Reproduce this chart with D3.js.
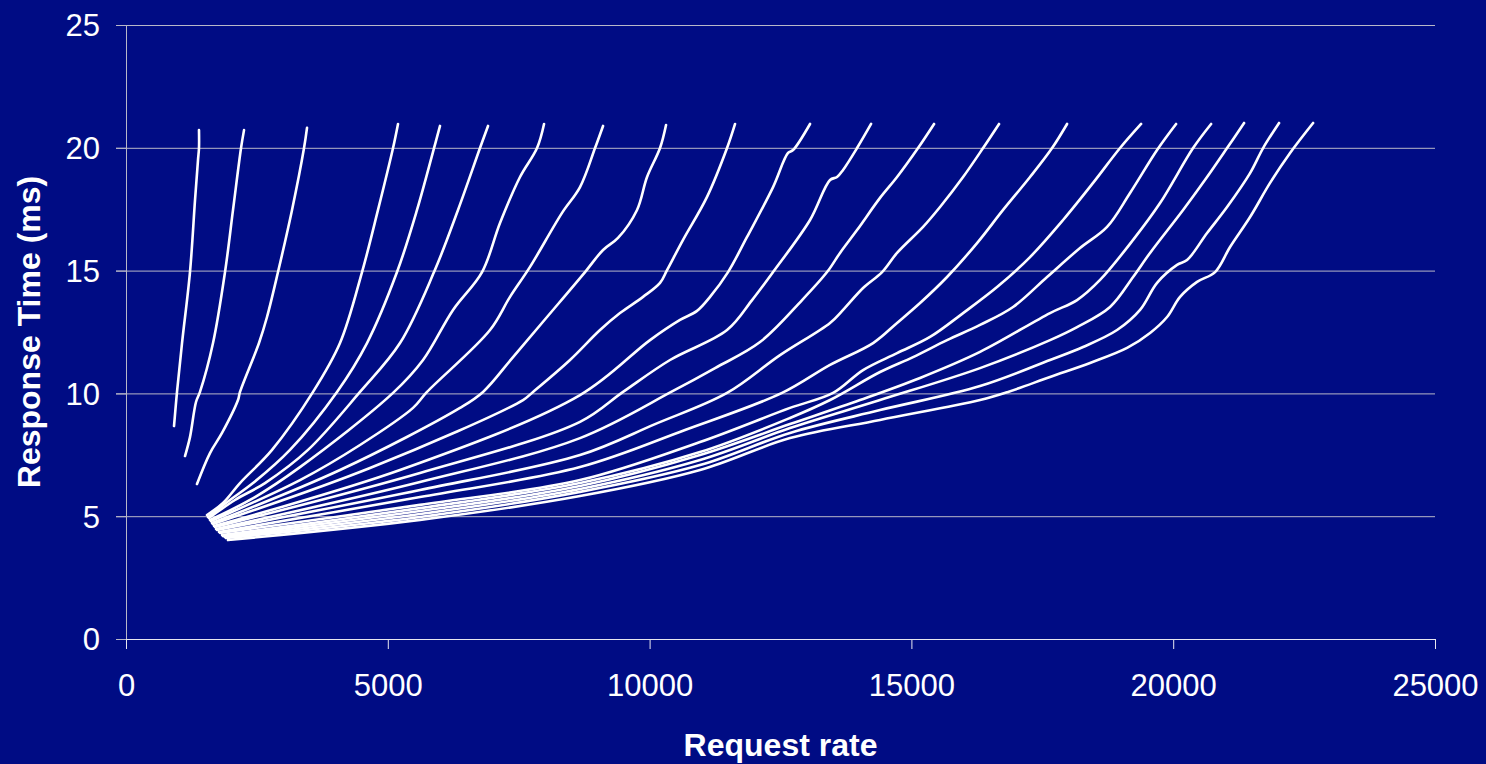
<!DOCTYPE html>
<html>
<head>
<meta charset="utf-8">
<script src="https://cdn.jsdelivr.net/npm/d3@7"></script>
<style>
  html, body { margin: 0; padding: 0; background: #000c84; }
  svg { display: block; }
</style>
</head>
<body>
<script>
// axis ticks
const xTicks = [0, 5000, 10000, 15000, 20000, 25000];
const yTicks = [0, 5, 10, 15, 20, 25];

// one array per measured curve: [request rate, response time (ms)]
const curve01 = [[917, 8.67], [974, 10.06], [1070, 12.05], [1222, 14.94], [1318, 17.87], [1375, 19.50], [1394, 19.99], [1394, 20.72]];
const curve02 = [[1127, 7.45], [1222, 8.22], [1337, 9.65], [1413, 10.06], [1662, 12.05], [1891, 14.94], [2044, 17.47], [2197, 19.99], [2254, 20.72]];
const curve03 = [[1356, 6.31], [1604, 7.57], [1834, 8.39], [2139, 9.73], [2177, 10.06], [2540, 12.05], [2693, 13.11], [2903, 14.94], [3171, 17.47], [3400, 19.99], [3457, 20.81]];
const curve04 = [[1547, 5.05], [1853, 5.54], [2177, 6.35], [2789, 7.70], [3572, 10.06], [4087, 12.05], [4508, 14.94], [4813, 17.47], [5100, 19.99], [5195, 20.97]];
const curve05 = [[1566, 4.97], [1986, 5.66], [2426, 6.35], [3132, 7.70], [4030, 10.06], [4603, 12.05], [5176, 14.94], [5558, 17.47], [5883, 19.99], [5997, 20.89]];
const curve06 = [[1585, 4.93], [2082, 5.66], [2655, 6.35], [3476, 7.70], [4469, 10.06], [5233, 12.05], [5883, 14.94], [6341, 17.47], [6761, 19.99], [6914, 20.89]];
const curve07 = [[1604, 4.85], [2368, 5.66], [3323, 7.00], [5100, 10.02], [5673, 11.36], [6246, 13.40], [6800, 14.94], [7143, 16.94], [7525, 18.81], [7850, 19.99], [7984, 20.97]];
const curve08 = [[1624, 4.80], [3323, 6.47], [4469, 7.90], [5482, 9.41], [5749, 10.06], [6952, 12.58], [7334, 13.93], [7716, 15.15], [8328, 17.35], [8671, 18.40], [8958, 19.99], [9111, 20.89]];
const curve09 = [[1643, 4.72], [4087, 6.88], [6379, 9.41], [6819, 10.06], [7392, 11.48], [8041, 13.11], [8767, 14.94], [9111, 15.84], [9397, 16.33], [9760, 17.47], [9951, 18.81], [10199, 19.99], [10314, 20.93]];
const curve10 = [[1662, 4.68], [4660, 6.96], [7583, 9.73], [7774, 10.06], [8480, 11.36], [9053, 12.58], [9435, 13.27], [9875, 13.93], [10199, 14.50], [10333, 15.02], [10639, 16.25], [11097, 18.00], [11479, 19.99], [11632, 20.97]];
const curve11 = [[1681, 4.60], [5233, 6.88], [8671, 9.93], [10008, 12.17], [10581, 12.99], [10906, 13.36], [11154, 13.93], [11498, 14.94], [11861, 16.37], [12358, 18.40], [12644, 19.79], [12740, 19.91], [13064, 20.97]];
const curve12 = [[1700, 4.56], [5615, 6.76], [8671, 8.84], [9493, 10.06], [10390, 11.36], [11479, 12.58], [11957, 13.80], [12358, 14.94], [13064, 17.06], [13446, 18.69], [13580, 18.81], [13695, 19.10], [13962, 19.99], [14230, 20.97]];
const curve13 = [[1719, 4.48], [5615, 6.39], [8671, 8.18], [10448, 10.10], [11250, 11.03], [12109, 12.09], [12912, 13.80], [13389, 14.94], [13637, 15.72], [13962, 16.65], [14401, 17.96], [14726, 18.81], [15127, 19.99], [15433, 20.97]];
const curve14 = [[1738, 4.44], [5615, 6.07], [8671, 7.49], [10104, 8.75], [11479, 10.02], [12491, 11.56], [13446, 12.87], [13695, 13.40], [14077, 14.29], [14440, 14.94], [14726, 15.72], [15223, 16.78], [15547, 17.59], [15987, 18.81], [16369, 19.99], [16674, 20.97]];
const curve15 = [[1776, 4.36], [5615, 5.78], [8671, 7.00], [10677, 8.51], [12530, 10.02], [13446, 11.16], [14268, 12.05], [14726, 12.87], [15165, 13.68], [15681, 14.74], [16254, 16.12], [16751, 17.47], [17266, 18.81], [17687, 19.99], [17973, 20.97]];
const curve16 = [[1795, 4.32], [5615, 5.46], [8671, 6.47], [10963, 8.02], [12682, 9.41], [13504, 10.02], [14077, 10.95], [14726, 11.64], [15356, 12.30], [15987, 13.27], [16636, 14.33], [17266, 15.55], [17897, 17.06], [18470, 18.57], [18985, 19.99], [19387, 20.97]];
const curve17 = [[1834, 4.23], [5615, 5.33], [8671, 6.35], [10963, 7.61], [12682, 9.00], [13446, 9.73], [14401, 10.87], [15032, 11.48], [15681, 12.17], [16311, 12.79], [16942, 13.52], [17591, 14.74], [18221, 15.92], [18737, 16.78], [19176, 18.16], [19692, 19.91], [20055, 20.97]];
const curve18 = [[1853, 4.19], [5615, 5.21], [8671, 6.23], [10963, 7.49], [12682, 8.75], [14019, 9.73], [15165, 10.63], [16311, 11.69], [17648, 13.27], [18164, 13.80], [18603, 14.62], [19234, 16.25], [19749, 17.75], [20380, 19.99], [20724, 20.97]];
const curve19 = [[1891, 4.15], [5615, 5.09], [8671, 6.11], [10963, 7.29], [12682, 8.59], [14401, 9.73], [16311, 11.03], [17648, 12.17], [18164, 12.70], [18794, 13.52], [19234, 14.74], [19558, 15.72], [20189, 17.47], [20647, 18.81], [21029, 19.99], [21354, 21.01]];
const curve20 = [[1910, 4.11], [5615, 4.97], [8671, 5.99], [10963, 7.08], [12682, 8.39], [14401, 9.32], [16311, 10.30], [17648, 11.36], [18279, 11.89], [18928, 12.58], [19367, 13.40], [19692, 14.50], [20074, 15.23], [20265, 15.43], [20647, 16.53], [21029, 17.59], [21468, 18.97], [21717, 19.99], [22022, 21.01]];
const curve21 = [[1948, 4.03], [5615, 4.85], [8671, 5.82], [10963, 6.88], [12682, 8.18], [14401, 8.92], [16311, 9.73], [16846, 10.06], [17648, 10.67], [18412, 11.24], [19119, 11.85], [19558, 12.46], [19883, 13.11], [20131, 13.93], [20456, 14.54], [20800, 14.94], [21086, 15.96], [21468, 17.18], [21850, 18.57], [22232, 19.79], [22672, 21.01]];

const curves = [curve01, curve02, curve03, curve04, curve05, curve06, curve07,
  curve08, curve09, curve10, curve11, curve12, curve13, curve14,
  curve15, curve16, curve17, curve18, curve19, curve20, curve21];

const width = 1486;
const height = 764;
const margin = { top: 25, right: 51, bottom: 125, left: 126 };
const font = '"Liberation Sans", Arial, sans-serif';

const svg = d3.select('body')
  .append('svg')
  .attr('width', width)
  .attr('height', height)
  .style('background', '#000c84');

const x = d3.scaleLinear().domain([0, 25000]).range([margin.left, width - margin.right]);
const y = d3.scaleLinear().domain([0, 25]).range([height - margin.bottom, margin.top]);

// horizontal gridlines (they also stick out left as the y ticks)
svg.append('g')
  .attr('transform', `translate(${margin.left},0)`)
  .call(d3.axisLeft(y).tickValues(yTicks.slice(1)).tickSize(-(width - margin.left - margin.right)).tickFormat(''))
  .call(g => g.select('.domain').remove())
  .call(g => g.selectAll('line').attr('stroke', '#b8b8c8').attr('x1', -10));

// y axis
svg.append('g')
  .attr('transform', `translate(${margin.left},0)`)
  .call(d3.axisLeft(y).tickValues(yTicks).tickSize(10).tickPadding(16).tickSizeOuter(0))
  .call(g => g.select('.domain').attr('stroke', '#b8b8c8'))
  .call(g => g.selectAll('line').attr('stroke', '#b8b8c8'))
  .call(g => g.selectAll('text')
    .attr('fill', '#fff')
    .attr('font-family', font)
    .attr('font-size', 31)
    .attr('dy', '0.35em'));

// x axis
svg.append('g')
  .attr('transform', `translate(0,${height - margin.bottom})`)
  .call(d3.axisBottom(x).tickValues(xTicks).tickFormat(d3.format('d')).tickSize(10).tickPadding(25).tickSizeOuter(0))
  .call(g => g.select('.domain').attr('stroke', '#e8e8f0'))
  .call(g => g.selectAll('line').attr('stroke', '#e8e8f0'))
  .call(g => g.selectAll('text')
    .attr('fill', '#fff')
    .attr('font-family', font)
    .attr('font-size', 31));

// curves
const line = d3.line()
  .curve(d3.curveCatmullRom.alpha(0.5))
  .x(d => x(d[0]))
  .y(d => y(d[1]));

svg.append('g')
  .selectAll('path')
  .data(curves)
  .join('path')
  .attr('d', line)
  .attr('fill', 'none')
  .attr('stroke', '#fff')
  .attr('stroke-width', 2.6)
  .attr('stroke-linejoin', 'round')
  .attr('stroke-linecap', 'round');

// axis titles
svg.append('text')
  .attr('x', (margin.left + width - margin.right) / 2)
  .attr('y', 756)
  .attr('text-anchor', 'middle')
  .attr('fill', '#fff')
  .attr('font-family', font)
  .attr('font-weight', 'bold')
  .attr('font-size', 32)
  .text('Request rate');

svg.append('text')
  .attr('transform', `translate(40,${(margin.top + height - margin.bottom) / 2}) rotate(-90)`)
  .attr('text-anchor', 'middle')
  .attr('fill', '#fff')
  .attr('font-family', font)
  .attr('font-weight', 'bold')
  .attr('font-size', 32)
  .text('Response Time (ms)');
</script>
</body>
</html>
